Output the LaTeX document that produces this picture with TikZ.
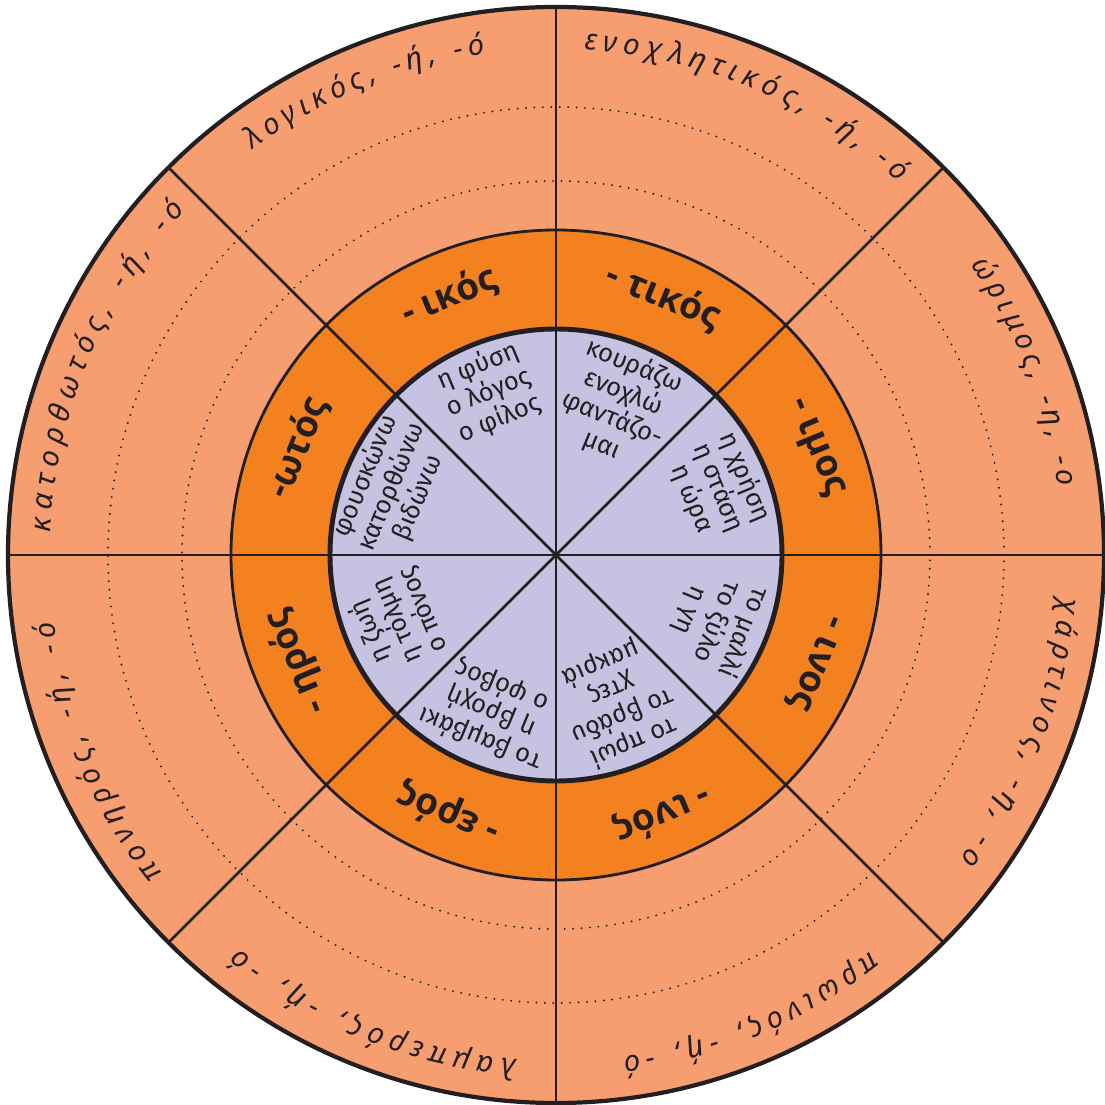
\documentclass[tikz,border=0pt]{standalone}
\usepackage{fontspec}
\setmainfont{Open Sans}
\newfontfamily\handfont{Noto Sans}
\newfontfamily\stemfont{Fira Sans}
\usetikzlibrary{decorations.text}
\definecolor{outerbg}{RGB}{247,158,112}
\definecolor{ringbg}{RGB}{244,129,32}
\definecolor{corebg}{RGB}{198,194,225}
\definecolor{ink}{RGB}{35,31,32}
\newcommand{\handsize}{\handfont\itshape\fontsize{8.3}{9}\selectfont}
\newcommand{\handword}[3]{%
  \path[decorate,decoration={text along path,text align=fit to path,text color=ink,
    text={|\handsize|#3}}] (#1:506) arc[start angle=#1,end angle=#2,radius=506];}
\tikzset{
  suffix/.style={font=\bfseries\fontsize{10.5}{11}\selectfont,text=ink,inner sep=0pt},
  stem/.style={align=center,font=\stemfont\fontsize{7.3}{8.1}\selectfont,text=ink,inner sep=0pt},
  spoke/.style={draw=ink,line width=0.75pt},
  guide/.style={draw=ink,line width=0.6pt,dash pattern=on 0pt off 2.4pt,line cap=round},
}

\begin{document}
\begin{tikzpicture}[x=0.1mm,y=0.1mm]
  \useasboundingbox (-556,-550) rectangle (548,555);
  \coordinate (c) at (0,0);
  \fill[outerbg] (c) circle[radius=548];
  \draw[guide] (c) circle[radius=448];
  \draw[guide] (c) circle[radius=374];
  \filldraw[fill=ringbg,draw=ink,line width=0.8pt] (c) circle[radius=325];
  \fill[corebg] (c) circle[radius=226];
  \foreach \a in {0,45,...,315} \draw[spoke] (c) -- (\a:548);
  \draw[ink,line width=1.4pt] (c) circle[radius=226];
  \draw[ink,line width=1.2pt] (c) circle[radius=548];
  \handword{126.8}{98}{λογικός, -ή, -ό}
  \handword{86.8}{47.4}{ενοχλητικός, -ή, -ό}
  \handword{35}{7.7}{ώριμος, -η, -ο}
  \handword{-4.8}{-37}{χάρτινος, -η, -ο}
  \handword{-51.6}{-82.4}{πρωινός, -ή, -ό}
  \handword{-94.5}{-128.9}{λαμπερός, -ή, -ό}
  \handword{219}{187.5}{πονηρός, -ή, -ό}
  \handword{177.4}{137}{κατορθωτός, -ή, -ό}
  \node[suffix,rotate=22.5] (s1) at (112.5:280) {- ικός};
  \node[suffix,rotate=-22.5] (s2) at (67.5:280) {- τικός};
  \node[suffix,rotate=-67.5] (s3) at (22.5:280) {- ιμος};
  \node[suffix,rotate=-112.5] (s4) at (-22.5:280) {- ινος};
  \node[suffix,rotate=-157.5] (s5) at (-67.5:280) {- ινός};
  \node[suffix,rotate=157.5] (s6) at (-112.5:280) {- ερός};
  \node[suffix,rotate=112.5] (s7) at (-157.5:280) {- ηρός};
  \node[suffix,rotate=67.5] (s8) at (157.5:280) {-ωτός};
  \node[stem,rotate=22.5] (w1) at (112.5:176) {η φύση\\ο λόγος\\ο φίλος};
  \node[stem,rotate=-22.5] (w2) at (67.5:162) {κουράζω\\ενοχλώ\\φαντάζο-\\μαι};
  \node[stem,rotate=-67.5] (w3) at (22.5:176) {η χρήση\\η στάση\\η ώρα};
  \node[stem,rotate=-112.5] (w4) at (-22.5:174) {το μαλλί\\το ξύλο\\η γη};
  \node[stem,rotate=-157.5] (w5) at (-67.5:160) {το πρωί\\το βράδυ\\χτες\\μακριά};
  \node[stem,rotate=157.5] (w6) at (-112.5:170) {το βαμβάκι\\η βροχή\\ο φόβος};
  \node[stem,rotate=112.5] (w7) at (-157.5:172) {η ζωή\\η τόλμη\\ο πόνος};
  \node[stem,rotate=67.5] (w8) at (157.5:178) {φουσκώνω\\κατορθώνω\\βιδώνω};
\end{tikzpicture}
\end{document}
